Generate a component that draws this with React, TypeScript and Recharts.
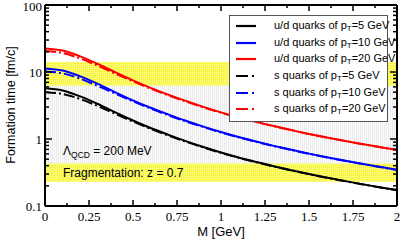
import React from 'react';
import {
  LineChart,
  Line,
  XAxis,
  YAxis,
  ReferenceArea,
} from 'recharts';

// M [GeV]
const mass = [0, 0.1, 0.2, 0.3, 0.4, 0.5, 0.6, 0.7, 0.8, 0.9, 1.0, 1.1, 1.2, 1.3, 1.4, 1.5, 1.6, 1.7, 1.8, 1.9, 2.0];

// formation time [fm/c], u/d quarks
const udPt5 = [5.7, 5.3, 4.32, 3.33, 2.49, 1.89, 1.46, 1.16, 0.93, 0.76, 0.63, 0.53, 0.455, 0.392, 0.342, 0.3, 0.266, 0.237, 0.212, 0.191, 0.173];
const udPt10 = [11.3, 10.5, 8.6, 6.65, 4.98, 3.78, 2.93, 2.33, 1.87, 1.53, 1.27, 1.07, 0.915, 0.79, 0.69, 0.605, 0.535, 0.477, 0.428, 0.385, 0.346];
const udPt20 = [22.5, 20.9, 17.1, 13.2, 9.9, 7.5, 5.8, 4.6, 3.7, 3.02, 2.5, 2.11, 1.8, 1.56, 1.36, 1.19, 1.055, 0.94, 0.845, 0.76, 0.685];

// s quarks
const sPt5 = [5.0, 4.7, 3.95, 3.1, 2.37, 1.82, 1.42, 1.13, 0.91, 0.748, 0.622, 0.526, 0.45, 0.389, 0.34, 0.298, 0.264, 0.236, 0.211, 0.19, 0.172];
const sPt10 = [10.2, 9.55, 7.95, 6.2, 4.76, 3.65, 2.85, 2.27, 1.83, 1.51, 1.25, 1.06, 0.905, 0.783, 0.685, 0.6, 0.532, 0.475, 0.426, 0.383, 0.345];
const sPt20 = [20.6, 19.2, 15.9, 12.4, 9.45, 7.25, 5.65, 4.5, 3.63, 2.97, 2.47, 2.09, 1.79, 1.55, 1.35, 1.185, 1.05, 0.938, 0.843, 0.758, 0.684];

// bands
const hadronBand = [6.25, 14.1];
const fragBand = [0.23, 0.43];

const xTicks = [0, 0.125, 0.25, 0.375, 0.5, 0.625, 0.75, 0.875, 1, 1.125, 1.25, 1.375, 1.5, 1.625, 1.75, 1.875, 2];
const xLabels: Record<string, string> = { '0': '0', '0.25': '0.25', '0.5': '0.5', '0.75': '0.75', '1': '1', '1.25': '1.25', '1.5': '1.5', '1.75': '1.75', '2': '2' };
const yTicks = [0.1, 0.2, 0.3, 0.4, 0.5, 0.6, 0.7, 0.8, 0.9, 1, 2, 3, 4, 5, 6, 7, 8, 9, 10, 20, 30, 40, 50, 60, 70, 80, 90, 100];
const yLabels: Record<string, string> = { '0.1': '0.1', '1': '1', '10': '10', '100': '100' };

const series = [
  { key: 'ud5', pt: '5', quark: 'u/d quarks', color: '#000000', dashed: false, values: udPt5 },
  { key: 'ud10', pt: '10', quark: 'u/d quarks', color: '#0000ff', dashed: false, values: udPt10 },
  { key: 'ud20', pt: '20', quark: 'u/d quarks', color: '#ff0000', dashed: false, values: udPt20 },
  { key: 's5', pt: '5', quark: 's quarks', color: '#000000', dashed: true, values: sPt5 },
  { key: 's10', pt: '10', quark: 's quarks', color: '#0000ff', dashed: true, values: sPt10 },
  { key: 's20', pt: '20', quark: 's quarks', color: '#ff0000', dashed: true, values: sPt20 },
];

const data = mass.map((m, i) => {
  const row: Record<string, number> = { m };
  series.forEach((s) => {
    row[s.key] = s.values[i];
  });
  return row;
});

const serif = '"Liberation Serif", "DejaVu Serif", serif';
const sans = '"Liberation Sans", Arial, sans-serif';
const DASH = '11 3 2 3';

function XTick(props: any) {
  const { x, y, payload, top } = props;
  const label = xLabels[String(payload.value)];
  const len = label ? 6 : 3;
  const dir = top ? 1 : -1;
  return (
    <g>
      <line x1={x} y1={y} x2={x} y2={y + dir * len} stroke="#000" strokeWidth={1.5} />
      {!top && label && (
        <text x={x} y={y + 15} textAnchor="middle" fontFamily={serif} fontSize={13} fill="#000">
          {label}
        </text>
      )}
    </g>
  );
}

function YTick(props: any) {
  const { x, y, payload, right } = props;
  const label = yLabels[String(payload.value)];
  const len = label ? 7 : 4;
  const dir = right ? -1 : 1;
  const v = payload.value;
  const dy = v === 100 ? 6 : 4.5;
  return (
    <g>
      <line x1={x} y1={y} x2={x + dir * len} y2={y} stroke="#000" strokeWidth={1.5} />
      {!right && label && (
        <text x={x - 3} y={y + dy} textAnchor="end" fontFamily={serif} fontSize={13} fill="#000">
          {label}
        </text>
      )}
    </g>
  );
}

function LegendBox() {
  return (
    <div
      style={{
        position: 'absolute',
        left: 229,
        top: 15,
        width: 159,
        height: 107,
        background: '#fff',
        border: '1px solid #555',
        boxSizing: 'border-box',
        fontFamily: sans,
        fontSize: 11,
        color: '#000',
        paddingTop: 2,
      }}
    >
      {series.map((s) => (
        <div key={s.key} style={{ display: 'flex', alignItems: 'center', height: 16.6 }}>
          <svg width={39} height={6} style={{ marginLeft: 5, flex: 'none' }}>
            <line
              x1={1}
              y1={3}
              x2={21}
              y2={3}
              stroke={s.color}
              strokeWidth={2.2}
              strokeDasharray={s.dashed ? '12 4 2 4' : undefined}
            />
          </svg>
          <span style={{ whiteSpace: 'nowrap' }}>
            {s.quark} of p<sub style={{ fontSize: 8, verticalAlign: -2 }}>T</sub>={s.pt} GeV
          </span>
        </div>
      ))}
    </div>
  );
}

const lambdaLabel = (props: any) => {
  const vb = props.viewBox;
  return (
    <text x={vb.x + 18} y={vb.y + vb.height - 9} fontFamily={sans} fontSize={12} fill="#000">
      Λ
      <tspan fontSize={8.5} dy={3}>QCD</tspan>
      <tspan dy={-3}> = 200 MeV</tspan>
    </text>
  );
};

const fragLabel = (props: any) => {
  const vb = props.viewBox;
  return (
    <text x={vb.x + 18} y={vb.y + vb.height / 2 + 4} fontFamily={sans} fontSize={12} fill="#000">
      Fragmentation: z = 0.7
    </text>
  );
};

export default function App() {
  return (
    <div style={{ position: 'absolute', left: 0, top: 0, width: 402, height: 241, background: '#fff' }}>
      <LineChart width={402} height={241} data={data} margin={{ top: 0, right: 0, bottom: 0, left: 0 }}>
        <defs>
          <pattern id="yel" width="2" height="2" patternUnits="userSpaceOnUse">
            <rect width="2" height="2" fill="#f6f548" />
            <rect width="1" height="1" fill="#ffff9c" />
          </pattern>
          <pattern id="gry" width="2" height="2" patternUnits="userSpaceOnUse">
            <rect width="2" height="2" fill="#fbfbfb" />
            <rect width="1" height="2" fill="#ebebeb" />
          </pattern>
        </defs>
        <XAxis
          dataKey="m"
          type="number"
          domain={[0, 2]}
          ticks={xTicks}
          height={35}
          tickSize={0}
          tickMargin={0}
          tickLine={false}
          axisLine={{ stroke: '#000', strokeWidth: 2 }}
          tick={<XTick />}
          interval={0}
          allowDataOverflow
        />
        <XAxis
          xAxisId="top"
          orientation="top"
          dataKey="m"
          type="number"
          domain={[0, 2]}
          ticks={xTicks}
          height={5}
          tickSize={0}
          tickMargin={0}
          tickLine={false}
          axisLine={{ stroke: '#000', strokeWidth: 2 }}
          tick={<XTick top />}
          interval={0}
        />
        <YAxis
          scale="log"
          domain={[0.1, 100]}
          ticks={yTicks}
          width={45}
          tickSize={0}
          tickMargin={0}
          tickLine={false}
          axisLine={{ stroke: '#000', strokeWidth: 2 }}
          tick={<YTick />}
          interval={0}
          allowDataOverflow
        />
        <YAxis
          yAxisId="right"
          orientation="right"
          scale="log"
          domain={[0.1, 100]}
          ticks={yTicks}
          width={5}
          tickSize={0}
          tickMargin={0}
          tickLine={false}
          axisLine={{ stroke: '#000', strokeWidth: 2 }}
          tick={<YTick right />}
          interval={0}
          allowDataOverflow
        />
        <ReferenceArea y1={hadronBand[1]} y2={hadronBand[0]} fill="url(#yel)" fillOpacity={1} stroke="none" />
        <ReferenceArea y1={hadronBand[0]} y2={fragBand[1]} fill="url(#gry)" fillOpacity={1} stroke="none" label={lambdaLabel} />
        <ReferenceArea y1={fragBand[1]} y2={fragBand[0]} fill="url(#yel)" fillOpacity={1} stroke="none" label={fragLabel} />
        {series.map((s) => (
          <Line
            key={s.key}
            type="monotone"
            dataKey={s.key}
            stroke={s.color}
            strokeWidth={2}
            strokeDasharray={s.dashed ? DASH : undefined}
            dot={false}
            activeDot={false}
            isAnimationActive={false}
          />
        ))}
      </LineChart>
      <LegendBox />
      <div
        style={{
          position: 'absolute',
          left: 11,
          top: 105,
          transform: 'translate(-50%, -50%) rotate(-90deg)',
          fontFamily: sans,
          fontSize: 12.5,
          whiteSpace: 'nowrap',
        }}
      >
        Formation time [fm/c]
      </div>
      <div
        style={{
          position: 'absolute',
          left: 221,
          top: 231,
          transform: 'translate(-50%, -50%)',
          fontFamily: sans,
          fontSize: 13,
          whiteSpace: 'nowrap',
        }}
      >
        M [GeV]
      </div>
    </div>
  );
}
